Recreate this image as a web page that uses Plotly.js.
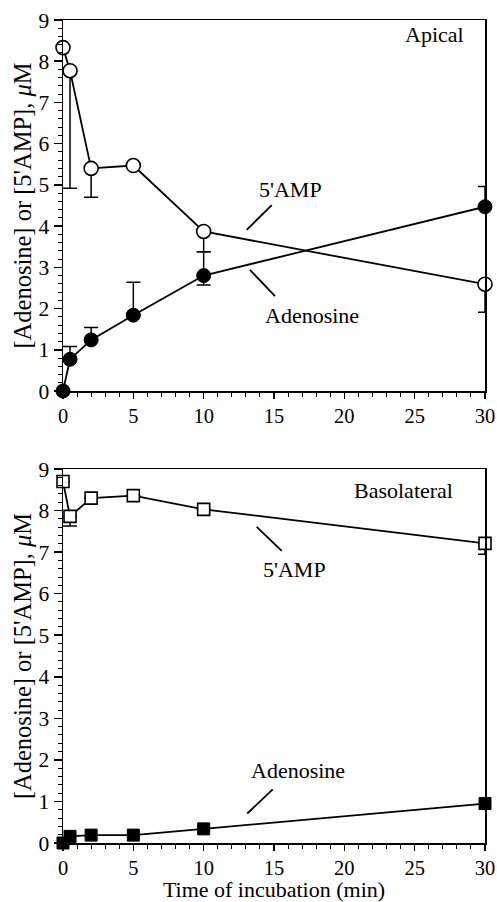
<!DOCTYPE html>
<html>
<head>
<meta charset="utf-8">
<script src="https://cdn.plot.ly/plotly-3.0.1.min.js"></script>
<style>html,body{margin:0;padding:0;background:#fff;}#chart{width:497px;height:902px;}</style>
</head>
<body>
<div id="chart"></div>
<script>
// Time points (min)
var timeMin = [0, 0.5, 2, 5, 10, 30];

// Apical panel
var apicalAMP = [8.33, 7.77, 5.40, 5.47, 3.87, 2.59];
var apicalAMPErrMinus = [0, 2.85, 0.70, 0, 0.49, 0.68];
var apicalAdo = [0, 0.77, 1.24, 1.84, 2.80, 4.47];
var apicalAdoErrPlus = [0, 0.31, 0.30, 0.80, 0.58, 0.49];
var apicalAdoErrMinus = [0, 0, 0, 0, 0.23, 0];

// Basolateral panel
var basoAMP = [8.70, 7.86, 8.30, 8.36, 8.03, 7.21];
var basoAMPErrMinus = [0, 0.23, 0, 0, 0, 0.26];
var basoAdo = [0, 0.16, 0.19, 0.19, 0.34, 0.95];

var zeros = timeMin.map(function(){return 0;});

var FONT = 'Liberation Serif, Times New Roman, serif';
var TICK_FS = 21.5;
var XTICK_FS = 20.5;
var LABEL_FS = 22;
var YTITLE_FS = 24.5;
var lineStyle = {color: 'black', width: 1.8};

function errY(plus, minus) {
  return {type: 'data', symmetric: false, array: plus, arrayminus: minus,
          color: 'black', thickness: 1.5, width: 7};
}

var traces = [
  {x: timeMin, y: apicalAMP, xaxis: 'x', yaxis: 'y', mode: 'lines+markers', name: "5'AMP apical",
   line: lineStyle, error_y: errY(zeros, apicalAMPErrMinus), cliponaxis: false,
   marker: {symbol: 'circle', size: 14, color: 'white', line: {color: 'black', width: 1.6}}},
  {x: timeMin, y: apicalAdo, xaxis: 'x', yaxis: 'y', mode: 'lines+markers', name: 'Adenosine apical',
   line: lineStyle, error_y: errY(apicalAdoErrPlus, apicalAdoErrMinus), cliponaxis: false,
   marker: {symbol: 'circle', size: 14, color: 'black', line: {color: 'black', width: 1}}},
  {x: timeMin, y: basoAMP, xaxis: 'x2', yaxis: 'y2', mode: 'lines+markers', name: "5'AMP basolateral",
   line: lineStyle, error_y: errY(zeros, basoAMPErrMinus), cliponaxis: false,
   marker: {symbol: 'square', size: 12, color: 'white', line: {color: 'black', width: 1.6}}},
  {x: timeMin, y: basoAdo, xaxis: 'x2', yaxis: 'y2', mode: 'lines+markers', name: 'Adenosine basolateral',
   line: lineStyle, cliponaxis: false,
   marker: {symbol: 'square', size: 12, color: 'black', line: {color: 'black', width: 1}}}
];

function xAxis(anchor, withTitle) {
  var a = {anchor: anchor, domain: [0, 1], range: [0, 30], tick0: 0, dtick: 5,
    ticks: 'outside', ticklen: 6, tickwidth: 1.5, tickcolor: 'black',
    showline: true, mirror: true, linecolor: 'black', linewidth: 1.5,
    showgrid: false, zeroline: false,
    tickfont: {family: FONT, size: XTICK_FS, color: 'black'},
    minor: {dtick: 1, ticks: 'outside', ticklen: 4, tickwidth: 1, tickcolor: 'black', showgrid: false}};
  if (withTitle) a.title = {text: 'Time of incubation (min)', font: {family: FONT, size: LABEL_FS, color: 'black'}, standoff: 8};
  return a;
}
function yAxis(anchor, domain) {
  return {anchor: anchor, domain: domain, range: [0, 9], tick0: 0, dtick: 1,
    ticks: 'outside', ticklen: 8, tickwidth: 1.5, tickcolor: 'black',
    showline: true, mirror: true, linecolor: 'black', linewidth: 1.5,
    showgrid: false, zeroline: false,
    tickfont: {family: FONT, size: TICK_FS, color: 'black'},
    title: {text: "[Adenosine] or [5'AMP], <i>μ</i>M", font: {family: FONT, size: YTITLE_FS, color: 'black'}, standoff: 0},
    minor: {dtick: 0.2, ticks: 'outside', ticklen: 4, tickwidth: 1, tickcolor: 'black', showgrid: false}};
}

var annFont = {family: FONT, size: LABEL_FS, color: 'black'};
function ann(text, x, y, xref, yref) {
  return {text: text, x: x, y: y, xref: xref, yref: yref, showarrow: false,
          xanchor: 'center', yanchor: 'middle', font: annFont};
}
function seg(x0, y0, x1, y1, xref, yref) {
  return {type: 'line', x0: x0, y0: y0, x1: x1, y1: y1, xref: xref, yref: yref,
          line: {color: 'black', width: 1.8}};
}

var layout = {
  width: 497, height: 902,
  margin: {l: 63, r: 12, t: 20, b: 59},
  paper_bgcolor: 'white', plot_bgcolor: 'white',
  showlegend: false,
  font: {family: FONT, size: LABEL_FS, color: 'black'},
  xaxis: xAxis('y', false),
  yaxis: yAxis('x', [0.5492, 1]),
  xaxis2: xAxis('y2', true),
  yaxis2: yAxis('x2', [0, 0.4544]),
  annotations: [
    ann('Apical', 26.44, 8.64, 'x', 'y'),
    ann("5'AMP", 16.14, 4.90, 'x', 'y'),
    ann('Adenosine', 17.68, 1.84, 'x', 'y'),
    ann('Basolateral', 24.24, 8.48, 'x2', 'y2'),
    ann("5'AMP", 16.49, 6.58, 'x2', 'y2'),
    ann('Adenosine', 16.70, 1.74, 'x2', 'y2')
  ],
  shapes: [
    seg(14.84, 4.51, 13.06, 3.91, 'x', 'y'),
    seg(13.29, 2.94, 15.07, 2.30, 'x', 'y'),
    seg(13.77, 7.61, 15.55, 7.03, 'x2', 'y2'),
    seg(14.91, 1.29, 13.10, 0.71, 'x2', 'y2')
  ]
};

Plotly.newPlot('chart', traces, layout, {displayModeBar: false, staticPlot: true});
</script>
</body>
</html>
